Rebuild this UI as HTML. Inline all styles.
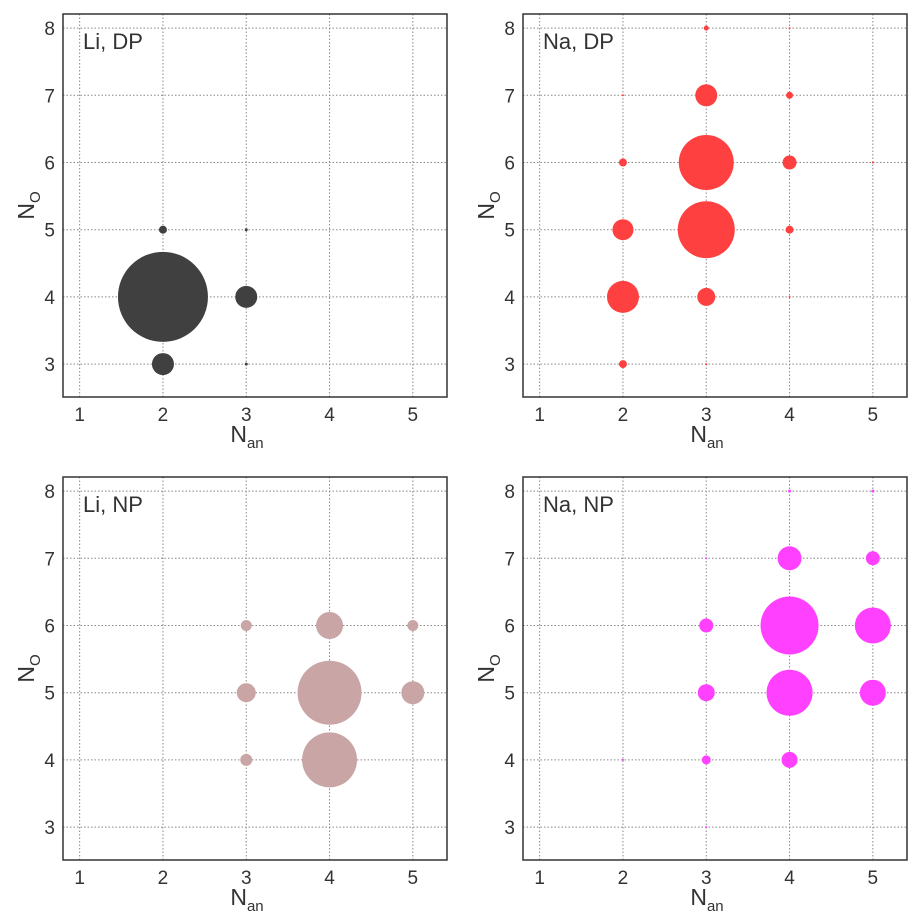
<!DOCTYPE html>
<html><head><meta charset="utf-8"><style>
html,body{margin:0;padding:0;background:#fff;}
svg{display:block;font-family:"Liberation Sans",sans-serif;}
</style></head><body>
<svg id="chart" width="913" height="916" viewBox="0 0 913 916" xmlns="http://www.w3.org/2000/svg"></svg>
<script>
const xTicks = [1,2,3,4,5];
const yTicks = [3,4,5,6,7,8];
const panelTitles = ["Li, DP","Na, DP","Li, NP","Na, NP"];
const panelColors = ["#404040","#ff4040","#c9a5a5","#ff40ff"];
// points: [N_an, N_O, radius(px)]
const liDP = [[2,4,45],[2,3,11],[3,4,11],[2,5,4],[3,5,1.5],[3,3,1.5]];
const naDP = [[3,6,27.5],[3,5,28.5],[3,7,11],[2,4,16],[2,5,10.5],[3,4,9],[4,6,7],[2,6,4],[4,7,3.5],[4,5,4],[2,3,4],[3,8,2.5],[4,8,1],[2,7,1],[4,4,1],[3,3,1],[5,6,1]];
const liNP = [[4,5,32],[4,4,27.5],[4,6,13.5],[5,5,11.5],[3,5,9.5],[3,6,5.5],[5,6,5.5],[3,4,6]];
const naNP = [[4,6,29],[4,5,23],[5,6,18],[5,5,13],[4,7,12],[3,6,7],[3,5,8.5],[5,7,7],[4,4,8],[3,4,4.5],[4,8,1.5],[5,8,1.5],[3,3,1],[2,4,1],[3,7,1]];
const series = [liDP, naDP, liNP, naNP];

const NS = "http://www.w3.org/2000/svg";
const svg = document.getElementById("chart");
function mk(tag, attrs, parent){const e=document.createElementNS(NS,tag);for(const k in attrs)e.setAttribute(k,attrs[k]);(parent||svg).appendChild(e);return e;}

const boxes = [[63,14],[523,14],[63,477],[523,477]];
const W = 384, H = 383;
const xMin = 0.8, xMax = 5.41, yMin = 2.51, yMax = 8.21;

boxes.forEach((b,i)=>{
  const [bx,by]=b;
  const sx = v => bx + (v - xMin)/(xMax - xMin)*W;
  const sy = v => by + H - (v - yMin)/(yMax - yMin)*H;
  const g = mk("g",{});
  
  
  xTicks.forEach(t=>{
    const l=mk("line",{x1:sx(t),x2:sx(t),y1:by,y2:by+H,stroke:"#888","stroke-width":1,"stroke-dasharray":"1.5,2"},g);
    
    
    const tx=mk("text",{x:sx(t),y:by+H+24,"text-anchor":"middle","font-size":19,fill:"#333"},g);
    tx.textContent=t;
    
    
  });
  yTicks.forEach(t=>{
    const l=mk("line",{x1:bx,x2:bx+W,y1:sy(t),y2:sy(t),stroke:"#888","stroke-width":1,"stroke-dasharray":"1.5,2"},g);
    
    
    const tx=mk("text",{x:bx-8,y:sy(t)+7,"text-anchor":"end","font-size":19,fill:"#333"},g);
    tx.textContent=t;
    
    
  });
  series[i].forEach(p=>{
    const c=mk("circle",{cx:sx(p[0]),cy:sy(p[1]),r:p[2],fill:panelColors[i]},g);
    
    
  });
  const fr=mk("rect",{x:bx,y:by,width:W,height:H,fill:"none",stroke:"#333","stroke-width":1.5},g);
  
  
  const tt=mk("text",{x:bx+20,y:by+35,"font-size":22,fill:"#333"},g);
  tt.textContent=panelTitles[i];
  
  
  const xl=mk("text",{x:bx+W/2-8,y:by+H+45,"text-anchor":"middle","font-size":23,fill:"#333"},g);
  xl.innerHTML='N<tspan font-size="15" dy="6">an</tspan>';
  
  
  const yl=mk("text",{transform:"translate("+(bx-29)+","+(by+H/2)+") rotate(-90)","text-anchor":"middle","font-size":23,fill:"#333"},g);
  yl.innerHTML='N<tspan font-size="15" dy="6">O</tspan>';
  
  
});
</script>
</body></html>
